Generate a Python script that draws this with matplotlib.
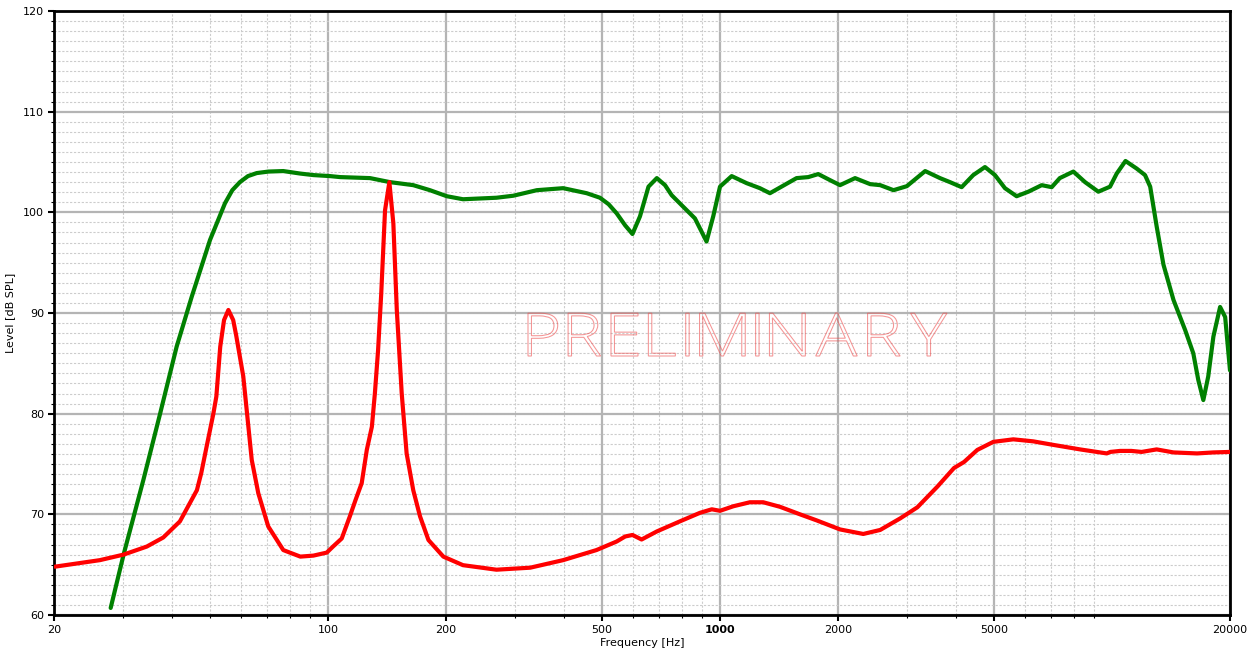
import matplotlib
matplotlib.use("Agg")
import matplotlib.pyplot as plt
from matplotlib.ticker import FixedLocator, NullFormatter
from matplotlib.textpath import TextPath
from matplotlib.patches import PathPatch
from matplotlib.path import Path
from matplotlib.font_manager import FontProperties
from matplotlib.transforms import Affine2D

# ---- data ----
green_freq = [27.9, 30.1, 33.8, 37.3, 41.1, 44.9, 50.0, 54.6, 57.0, 59.6, 62.5, 65.8, 70.5, 76.9, 85.0,
              91.8, 101.2, 107.4, 128, 143.9, 165, 182, 201, 221, 269, 297, 341, 398,
              457, 494, 520, 545, 573, 598, 625, 657, 690, 724, 753, 806, 863, 897, 924,
              961, 1000, 1071, 1169, 1264, 1341, 1435, 1568, 1679, 1781, 1908, 2024,
              2211, 2416, 2563, 2771, 2997, 3337, 3641, 3861, 4135, 4426, 4742, 5028,
              5333, 5710, 6118, 6617, 7018, 7359, 7970, 8537, 9228, 9886, 10280, 10825,
              11558, 12141, 12515, 13000, 13530, 14350, 15370, 16120, 16600, 17100,
              17600, 18140, 18870, 19440, 20000]
green_level = [60.7, 66.0, 73.4, 80.0, 86.65, 91.6, 97.25, 100.9, 102.2, 103.0, 103.6, 103.9, 104.05, 104.1, 103.85,
               103.7, 103.6, 103.5, 103.4, 103.0, 102.7, 102.2, 101.6, 101.3, 101.45, 101.65, 102.2, 102.4,
               101.9, 101.45, 100.8, 99.9, 98.7, 97.85, 99.6, 102.55, 103.4, 102.7, 101.7, 100.55, 99.4, 98.1, 97.1,
               99.6, 102.55, 103.6, 102.9, 102.4, 101.9, 102.55, 103.4, 103.5, 103.8, 103.2, 102.7,
               103.4, 102.8, 102.7, 102.2, 102.6, 104.1, 103.4, 103.0, 102.5, 103.7, 104.5, 103.7,
               102.4, 101.6, 102.05, 102.7, 102.5, 103.4, 104.05, 103.0, 102.05, 102.55, 103.85, 105.1,
               104.35, 103.7, 102.55, 98.6, 94.8, 91.3, 88.3, 86.0, 83.35, 81.35,
               83.7, 87.65, 90.6, 89.6, 84.3]

red_freq = [20.1, 26.2, 30.1, 34.5, 38.0, 41.9, 46.3, 47.5, 49.0, 51.0, 51.9, 53.1, 54.3,
            55.7, 57.3, 58.3, 60.8, 63.9, 66.4, 70.4, 76.9, 85.0, 91.8, 99.3, 103, 108.4,
            113.7, 117.5, 121.9, 125.6, 129.4, 131.7, 134.2, 136.7, 139.8, 143.4, 146.8,
            149.8, 154.2, 158.7, 165, 171.7, 180.4, 196.9, 221, 269, 328, 398, 484, 545,
            573, 598, 631, 690, 790, 889, 953, 1000, 1081, 1192, 1289, 1422, 1600, 1764,
            2024, 2320, 2563, 2883, 3188, 3585, 3953, 4193, 4534, 4981, 5600, 6296, 7080,
            8290, 9700, 9900, 10490, 11200, 11900, 13000, 14350, 16480, 18140, 20000]
red_level = [64.8, 65.45, 66.0, 66.8, 67.7, 69.3, 72.4, 74.1, 76.7, 80.0, 81.7, 86.65, 89.3,
             90.3, 89.3, 87.8, 83.7, 75.4, 72.1, 68.8, 66.45, 65.8, 65.9, 66.2, 66.8, 67.6,
             69.8, 71.4, 73.1, 76.4, 78.7, 82.0, 86.3, 91.9, 100.2, 103.0, 98.9,
             90.3, 82.0, 76.05, 72.4, 69.8, 67.45, 65.8, 64.95, 64.5, 64.7, 65.45, 66.45, 67.3,
             67.8, 67.95, 67.5, 68.3, 69.3, 70.15, 70.5, 70.35, 70.8, 71.2, 71.2, 70.75, 70.0, 69.4,
             68.5, 68.05, 68.45, 69.6, 70.7, 72.75, 74.6, 75.2, 76.4, 77.2, 77.45, 77.25, 76.9,
             76.45, 76.05, 76.2, 76.3, 76.3, 76.2, 76.45, 76.15, 76.05, 76.15, 76.2]

x_ticks = [20, 100, 200, 500, 1000, 2000, 5000, 20000]
x_tick_labels = ["20", "100", "200", "500", "1000", "2000", "5000", "20000"]
x_minor = [30, 40, 50, 60, 70, 80, 90, 300, 400, 600, 700, 800, 900,
           3000, 4000, 6000, 7000, 8000, 9000]
y_ticks = [60, 70, 80, 90, 100, 110, 120]
y_minor = [v for v in range(60, 121) if v % 10 != 0]
watermark = "PRELIMINARY"

W, H = 1257, 653
fig = plt.figure(figsize=(W / 100, H / 100), dpi=100)
ax = fig.add_axes([54 / W, (H - 615) / H, (1230 - 54) / W, (615 - 11) / H])

ax.set_xscale("log")
ax.set_xlim(20, 20000)
ax.set_ylim(60, 120)

ax.xaxis.set_major_locator(FixedLocator(x_ticks))
ax.xaxis.set_minor_locator(FixedLocator(x_minor))
ax.xaxis.set_minor_formatter(NullFormatter())
ax.set_xticklabels(x_tick_labels)
ax.yaxis.set_major_locator(FixedLocator(y_ticks))
ax.yaxis.set_minor_locator(FixedLocator(y_minor))

for lbl in ax.get_xticklabels():
    if lbl.get_text() == "1000":
        lbl.set_fontweight("bold")

ax.tick_params(which="major", direction="out", length=4, width=1.5, labelsize=8, pad=3)
ax.tick_params(which="minor", direction="out", length=2.5, width=0.8)

ax.grid(which="major", color="#b4b4b4", linewidth=1.6, linestyle="-", zorder=0)
ax.grid(which="minor", color="#cccccc", linewidth=0.8, linestyle=(0, (2, 1.5)), zorder=0)
ax.set_axisbelow(True)

for s in ax.spines.values():
    s.set_linewidth(2)
    s.set_color("black")

ax.plot(green_freq, green_level, color="#008000", linewidth=3, zorder=3,
        solid_joinstyle="round", solid_capstyle="round")
ax.plot(red_freq, red_level, color="#ff0000", linewidth=3, zorder=3,
        solid_joinstyle="round", solid_capstyle="round")

ax.set_xlabel("Frequency [Hz]", fontsize=8, labelpad=2)
ax.set_ylabel("Level [dB SPL]", fontsize=8, labelpad=6)

# Outlined watermark with extra letter spacing
prop = FontProperties(family="Open Sans", weight="light")
verts, codes = [], []
xpos = 0.0
gap = 0.15
for ch in watermark:
    p = TextPath((0, 0), ch, size=1, prop=prop)
    e = p.get_extents()
    shifted = p.vertices + [xpos - e.x0, 0]
    verts.extend(shifted.tolist())
    codes.extend(p.codes.tolist())
    xpos += e.width + gap
tp = Path(verts, codes)
ext = tp.get_extents()
x0, x1 = 528 / W, 947 / W
y0, y1 = (H - 356) / H, (H - 313) / H
tr = (Affine2D().translate(-ext.x0, -ext.y0)
      .scale((x1 - x0) / ext.width, (y1 - y0) / ext.height)
      .translate(x0, y0) + fig.transFigure)
patch = PathPatch(tp, transform=tr, facecolor="none",
                  edgecolor=(0.93, 0.3, 0.3, 0.6), linewidth=0.75, zorder=2)
fig.add_artist(patch)

fig.savefig("out.png", dpi=100)
